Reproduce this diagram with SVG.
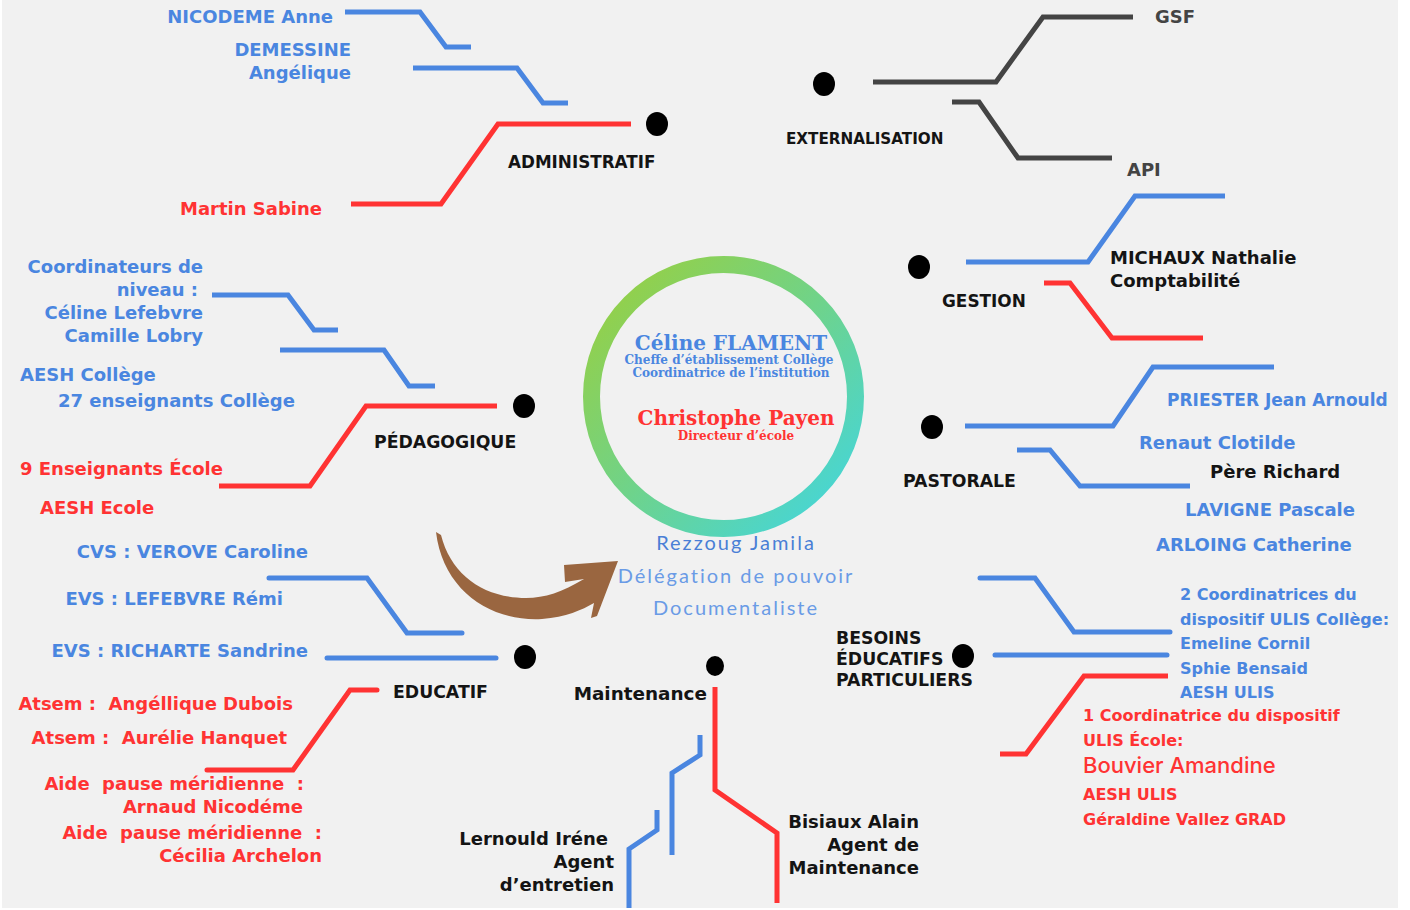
<svg xmlns="http://www.w3.org/2000/svg" width="1410" height="910" viewBox="0 0 1410 910">
<defs>
<linearGradient id="ring" x1="0" y1="0" x2="1" y2="1">
<stop offset="0" stop-color="#9ccf3a"/>
<stop offset="0.5" stop-color="#6fd38a"/>
<stop offset="1" stop-color="#3fd6e4"/>
</linearGradient>
<style>
.b{fill:#4a86e0}
.r{fill:#ff3333}
.k{fill:#141414}
.t{font-family:"DejaVu Sans",Inter,sans-serif;font-weight:700;font-size:18px}
.s16{font-size:16px}
.s17{font-size:17px}
.lab{font-family:"DejaVu Sans",Inter,sans-serif;font-weight:700;font-size:17.3px;fill:#141414}
.e{text-anchor:end}
.ln{fill:none;stroke-width:5;stroke-linejoin:miter}
.lb{stroke:#4a86e0}
.lr{stroke:#ff3333}
.lg{stroke:#444444}
.dot{fill:#000}
.sf{font-family:"DejaVu Serif","Liberation Serif",serif;font-weight:700;text-anchor:middle}
.lt{font-family:Lato,"Open Sans",sans-serif;text-anchor:middle;letter-spacing:2px;font-size:20px}
</style>
</defs>
<rect x="0" y="0" width="1410" height="910" fill="#ffffff"/>
<rect x="2" y="0" width="1396" height="908" fill="#f1f1f1"/>

<g id="connectors">
<polyline class="ln lb" points="345,12 420,12 446,47 471,47"/>
<polyline class="ln lb" points="413,68 517,68 543,103 568,103"/>
<polyline class="ln lr" points="351,204 441,204 498,124 631,124"/>
<polyline class="ln lg" points="873,82 996,82 1043,17 1133,17"/>
<polyline class="ln lg" points="952,102 979,102 1018,158 1112,158"/>
<polyline class="ln lb" points="966,262 1088,262 1135,196 1225,196"/>
<polyline class="ln lr" points="1044,283 1070,283 1112,338 1203,338"/>
<polyline class="ln lb" points="965,426 1113,426 1153,367 1274,367"/>
<polyline class="ln lb" points="1017,450 1050,450 1080,486 1190,486"/>
<polyline class="ln lb" points="212,295 288,295 314,330 338,330"/>
<polyline class="ln lb" points="280,350 384,350 409,386 435,386"/>
<polyline class="ln lr" points="219,486 310,486 366,406 497,406"/>
<polyline class="ln lb" points="269,578 367,578 407,633 462,633" stroke-linecap="round"/>
<polyline class="ln lb" points="327,658 496,658" stroke-linecap="round"/>
<polyline class="ln lr" points="207,770 293,770 350,690 377,690" stroke-linecap="round"/>
<polyline class="ln lr" points="715,687 715,790 777,833 777,903"/>
<polyline class="ln lb" points="700,735 700,755 672,773 672,855"/>
<polyline class="ln lb" points="657,810 657,830 629,849 629,908"/>
<polyline class="ln lb" points="980,578 1035,578 1074,632 1170,632" stroke-linecap="round"/>
<polyline class="ln lb" points="995,655 1167,655" stroke-linecap="round"/>
<polyline class="ln lr" points="1000,754 1026,754 1084,676 1168,676"/>
<path d="M436,532 C443,590 490,622 542,619 C566,617 582,610 594,603 L591,618 L597,616 L618,561 L564,565 L565,582 L584,579 C562,592 545,598 526,598 C484,598 451,575 441,535 Z" fill="#9a6640"/>
</g>

<g id="center">
<circle cx="723.5" cy="396.5" r="132" fill="none" stroke="url(#ring)" stroke-width="17"/>
<text class="sf b" x="731" y="350" font-size="20">Céline FLAMENT</text>
<text class="sf b" x="729" y="364" font-size="12">Cheffe d’établissement Collège</text>
<text class="sf b" x="731" y="377" font-size="12">Coordinatrice de l’institution</text>
<text class="sf r" x="736" y="425" font-size="20">Christophe Payen</text>
<text class="sf r" x="736" y="440" font-size="12">Directeur d’école</text>
<text class="lt" x="736" y="550" fill="#4a7fd6">Rezzoug Jamila</text>
<text class="lt" x="736" y="583" fill="#6a9be6">Délégation de pouvoir</text>
<text class="lt" x="736" y="615" fill="#6a9be6">Documentaliste</text>
</g>

<g id="administratif">
<ellipse class="dot" cx="657" cy="124" rx="11" ry="12"/>
<text class="lab" x="508" y="168" style="font-size:16.8px">ADMINISTRATIF</text>
<text class="t b e" x="333" y="23">NICODEME Anne</text>
<text class="t b e" x="351" y="56">DEMESSINE</text>
<text class="t b e" x="351" y="79">Angélique</text>
<text class="t r e" x="322" y="215">Martin Sabine</text>
</g>

<g id="externalisation">
<ellipse class="dot" cx="824" cy="84" rx="11" ry="12"/>
<text class="lab" x="786" y="144" style="font-size:15.2px">EXTERNALISATION</text>
<text class="t" x="1155" y="23" fill="#444">GSF</text>
<text class="t" x="1127" y="176" fill="#444">API</text>
</g>

<g id="gestion">
<ellipse class="dot" cx="919" cy="267" rx="11" ry="12"/>
<text class="lab" x="942" y="307" style="font-size:16.9px">GESTION</text>
<text class="t k" x="1110" y="264">MICHAUX Nathalie</text>
<text class="t k" x="1110" y="287">Comptabilité</text>
</g>

<g id="pastorale">
<ellipse class="dot" cx="932" cy="427" rx="11" ry="12"/>
<text class="lab" x="903" y="487">PASTORALE</text>
<text class="t b s17" x="1167" y="406">PRIESTER Jean Arnould</text>
<text class="t b" x="1139" y="449">Renaut Clotilde</text>
<text class="t k" x="1210" y="478">Père Richard</text>
<text class="t b" x="1185" y="516">LAVIGNE Pascale</text>
<text class="t b" x="1156" y="551">ARLOING Catherine</text>
</g>

<g id="pedagogique">
<ellipse class="dot" cx="524" cy="406" rx="11" ry="12"/>
<text class="lab" x="374" y="448">PÉDAGOGIQUE</text>
<text class="t b e" x="203" y="273">Coordinateurs de</text>
<text class="t b e" x="198" y="296">niveau :</text>
<text class="t b e" x="203" y="319">Céline Lefebvre</text>
<text class="t b e" x="203" y="342">Camille Lobry</text>
<text class="t b" x="20" y="381">AESH Collège</text>
<text class="t b" x="58" y="407">27 enseignants Collège</text>
<text class="t r" x="20" y="475">9 Enseignants École</text>
<text class="t r" x="40" y="514">AESH Ecole</text>
</g>

<g id="educatif">
<ellipse class="dot" cx="525" cy="657" rx="11" ry="12"/>
<text class="lab" x="393" y="698">EDUCATIF</text>
<text class="t b e" x="308" y="558">CVS : VEROVE Caroline</text>
<text class="t b e" x="283" y="605">EVS : LEFEBVRE Rémi</text>
<text class="t b e" x="308" y="657">EVS : RICHARTE Sandrine</text>
<text class="t r e" x="293" y="710" xml:space="preserve">Atsem :  Angéllique Dubois</text>
<text class="t r e" x="287" y="744" xml:space="preserve">Atsem :  Aurélie Hanquet</text>
<text class="t r e" x="304" y="790" xml:space="preserve">Aide  pause méridienne  :</text>
<text class="t r e" x="303" y="813">Arnaud Nicodéme</text>
<text class="t r e" x="322" y="839" xml:space="preserve">Aide  pause méridienne  :</text>
<text class="t r e" x="322" y="862">Cécilia Archelon</text>
</g>

<g id="maintenance">
<ellipse class="dot" cx="715" cy="666" rx="9" ry="10"/>
<text class="lab e" x="707" y="700" style="font-size:18.4px">Maintenance</text>
<text class="t k e" x="608" y="845">Lernould Iréne</text>
<text class="t k e" x="614" y="868">Agent</text>
<text class="t k e" x="614" y="891">d’entretien</text>
<text class="t k e" x="919" y="828">Bisiaux Alain</text>
<text class="t k e" x="919" y="851">Agent de</text>
<text class="t k e" x="919" y="874">Maintenance</text>
</g>

<g id="besoins">
<ellipse class="dot" cx="963" cy="656" rx="11" ry="12"/>
<text class="lab" x="836" y="644">BESOINS</text>
<text class="lab" x="836" y="665">ÉDUCATIFS</text>
<text class="lab" x="836" y="686">PARTICULIERS</text>
<text class="t b s16" x="1180" y="600">2 Coordinatrices du</text>
<text class="t b s16" x="1180" y="625">dispositif ULIS Collège:</text>
<text class="t b s16" x="1180" y="649">Emeline Cornil</text>
<text class="t b s16" x="1180" y="674">Sphie Bensaid</text>
<text class="t b s16" x="1180" y="698">AESH ULIS</text>
<text class="t r s16" x="1083" y="721">1 Coordinatrice du dispositif</text>
<text class="t r s16" x="1083" y="746">ULIS École:</text>
<text class="r" x="1083" y="773" font-family="Inter,'Open Sans',sans-serif" font-weight="500" font-size="22">Bouvier Amandine</text>
<text class="t r s16" x="1083" y="800">AESH ULIS</text>
<text class="t r s16" x="1083" y="825">Géraldine Vallez GRAD</text>
</g>
</svg>
